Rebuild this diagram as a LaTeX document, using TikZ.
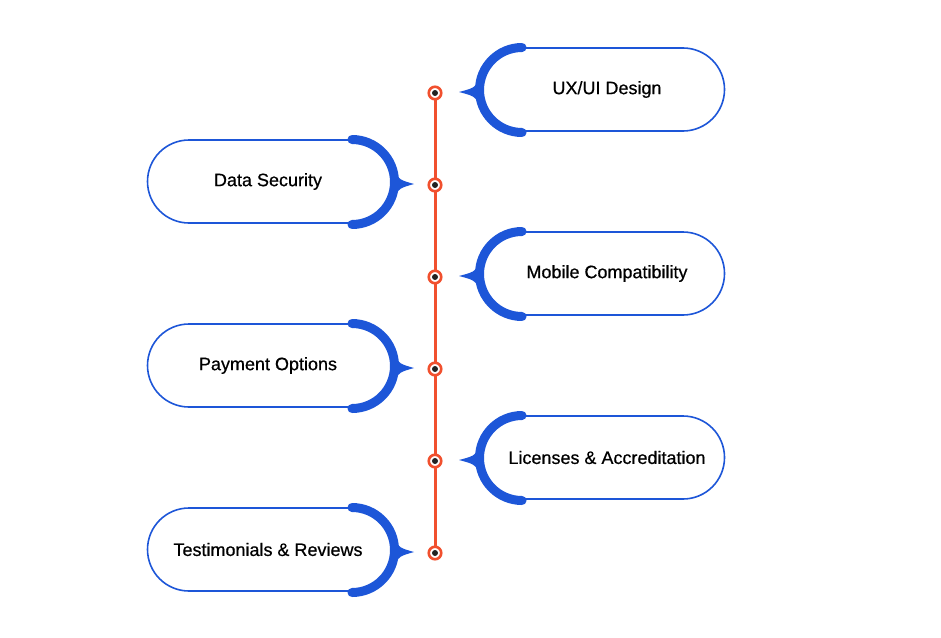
\documentclass[tikz,border=0pt]{standalone}
\usepackage{fontspec}
\setmainfont{Liberation Sans}[FakeBold=0.6]
\definecolor{pillblue}{HTML}{1D56D8}
\definecolor{linered}{HTML}{F1502E}
\definecolor{dotdark}{HTML}{222222}
\tikzset{
  pillthin/.style={draw=pillblue, line width=1.6pt, fill=white},
  pillthick/.style={draw=pillblue, line width=9pt, line cap=round},
  pillarrow/.style={fill=pillblue},
  itemtext/.style={font=\fontsize{18}{21}\selectfont, text=black, inner sep=0pt},
  redline/.style={draw=linered, line width=3pt},
  ringdot/.style={circle, draw=linered, line width=2.6pt, fill=white, minimum size=12.5pt, inner sep=0pt},
}
\begin{document}
\begin{tikzpicture}[x=1pt, y=1pt, yscale=-1]
\useasboundingbox (0,0) rectangle (941,637);
% timeline coordinates
\foreach \i/\dy in {1/93,2/185,3/277,4/369,5/461,6/553}{
  \coordinate (p\i) at (435,\dy);
}
\draw[redline] (p1) -- (p6);
\foreach \i in {1,...,6}{
  \node[ringdot] (d\i) at (p\i) {};
  \fill[dotdark] (d\i.center) circle (3);
}
% right items
\foreach \dy/\t/\n in {93/{UX/UI Design}/a, 277/{Mobile Compatibility}/c, 461/{Licenses \& Accreditation}/e}{
  \pgfmathsetmacro{\cy}{\dy-3.5}
  \pgfmathsetmacro{\ay}{\dy-1}
  \draw[pillthin] (522,\cy-41.5) -- (683,\cy-41.5) arc[start angle=270, end angle=450, radius=41.5]
     -- (522,\cy+41.5) arc[start angle=90, end angle=270, radius=41.5] -- cycle;
  \draw[pillthick] (522,\cy-42) arc[start angle=270, end angle=90, radius=42.5];
  \fill[pillarrow] (481,\ay-13) .. controls (474,\ay-4) .. (459,\ay)
     .. controls (474,\ay+4) .. (481,\ay+13) -- cycle;
  \node[itemtext] (t\n) at (607,\cy) {\t};
}
% left items
\foreach \dy/\t/\n in {185/{Data Security}/b, 369/{Payment Options}/d, 553/{Testimonials \& Reviews}/f}{
  \pgfmathsetmacro{\cy}{\dy-3.5}
  \pgfmathsetmacro{\ay}{\dy-1}
  \draw[pillthin] (189,\cy-41.5) -- (352,\cy-41.5) arc[start angle=270, end angle=450, radius=41.5]
     -- (189,\cy+41.5) arc[start angle=90, end angle=270, radius=41.5] -- cycle;
  \draw[pillthick] (352,\cy-42) arc[start angle=270, end angle=450, radius=42.5];
  \fill[pillarrow] (393,\ay-13) .. controls (400,\ay-4) .. (414,\ay)
     .. controls (400,\ay+4) .. (393,\ay+13) -- cycle;
  \node[itemtext] (t\n) at (268,\cy) {\t};
}
\end{tikzpicture}
\end{document}
